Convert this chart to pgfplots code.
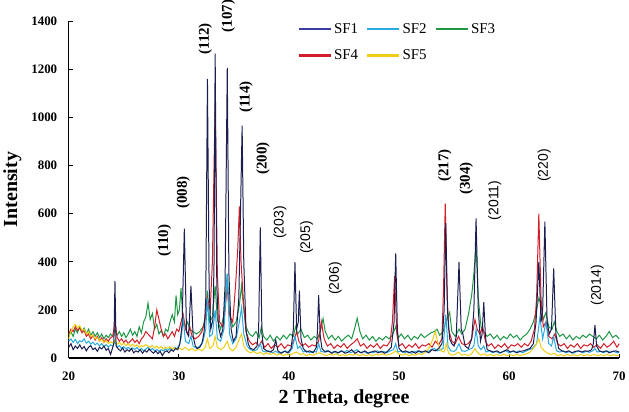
\documentclass[border=0pt]{standalone}
\usepackage{fontspec}
\setmainfont{Liberation Serif}
\newfontfamily\sansf{Liberation Sans}
\usepackage{pgfplots}
\pgfplotsset{compat=1.18}
\definecolor{sfone}{RGB}{28,30,80}
\definecolor{sfonel}{RGB}{60,60,165}
\definecolor{sftwo}{RGB}{40,170,225}
\definecolor{sfthree}{RGB}{30,150,70}
\definecolor{sffour}{RGB}{210,30,40}
\definecolor{sffive}{RGB}{240,205,20}
\begin{document}
\begin{tikzpicture}
\begin{axis}[
  scale only axis, width=552pt, height=338pt,
  xmin=20, xmax=70, ymin=0, ymax=1400,
  axis lines=left, axis line style={-, black, line width=1.3pt},
  xtick={20,30,...,70}, ytick={0,200,...,1400},
  tick align=inside, major tick length=4pt, tick style={black, line width=0.8pt},
  /pgf/number format/assume math mode=true,
  /pgf/number format/1000 sep={},
  tick label style={font=\fontsize{13}{13}\selectfont\bfseries},
  xticklabel style={yshift=-10pt},
  yticklabel style={xshift=-8pt},
  xlabel={2 Theta, degree}, ylabel={Intensity},
  label style={font=\fontsize{20}{20}\selectfont\bfseries},
  xlabel style={yshift=-3pt},
  ylabel style={yshift=3pt},
  clip=false,
  legend columns=3,
  legend style={draw=none, fill=none, at={(0.41,1.005)}, anchor=north west,
    font=\fontsize{15}{15}\selectfont, row sep=11pt,
    /tikz/every even column/.append style={column sep=6pt}},
  legend cell align=left,
  legend image code/.code={\draw[#1, line width=2.5pt] (0pt,0pt) -- (32pt,0pt);},
  every axis plot/.append style={line width=1pt},
]
\addlegendimage{sfonel}\addlegendentry{SF1}
\addlegendimage{sftwo}\addlegendentry{SF2}
\addlegendimage{sfthree}\addlegendentry{SF3}
\addlegendimage{sffour}\addlegendentry{SF4}
\addlegendimage{sffive}\addlegendentry{SF5}

% SF3
\addplot[sfthree, forget plot] coordinates {(20,95)(20.2,110)(20.4,90)(20.6,120)(20.8,105)(21,130)(21.2,110)(21.4,125)(21.6,100)(21.8,120)(22,95)(22.2,110)(22.4,90)(22.6,105)(22.8,85)(23,100)(23.2,80)(23.4,95)(23.6,85)(23.8,100)(24,90)(24.2,120)(24.4,95)(24.6,110)(24.8,90)(25,105)(25.2,85)(25.4,100)(25.6,120)(25.8,95)(26,110)(26.2,90)(26.4,130)(26.6,105)(26.8,150)(27,170)(27.2,228)(27.4,160)(27.6,185)(27.8,120)(28,140)(28.2,100)(28.4,115)(28.6,90)(28.8,120)(29,110)(29.2,150)(29.4,180)(29.6,150)(29.75,260)(29.9,180)(30.05,200)(30.2,290)(30.35,180)(30.6,130)(30.8,150)(31,120)(31.3,110)(31.6,100)(31.9,110)(32.2,130)(32.45,180)(32.6,280)(32.8,150)(33.05,170)(33.3,300)(33.5,160)(33.8,120)(34.1,180)(34.4,350)(34.6,180)(34.9,130)(35.2,150)(35.5,220)(35.7,300)(35.9,200)(36.1,130)(36.4,100)(36.7,90)(37,110)(37.3,85)(37.5,130)(37.7,90)(38,75)(38.3,95)(38.6,70)(38.9,90)(39.2,75)(39.5,95)(39.8,80)(40.1,100)(40.4,90)(40.6,130)(40.8,100)(41.1,120)(41.4,85)(41.7,95)(42,75)(42.3,90)(42.6,80)(42.9,120)(43.1,165)(43.3,110)(43.6,80)(43.9,95)(44.2,75)(44.5,90)(44.8,70)(45.1,85)(45.4,95)(45.7,80)(45.95,120)(46.2,165)(46.45,110)(46.7,80)(47,95)(47.3,75)(47.6,90)(47.9,70)(48.2,85)(48.5,75)(48.8,90)(49.1,80)(49.4,95)(49.7,130)(49.95,85)(50.2,100)(50.5,80)(50.8,95)(51.1,75)(51.4,90)(51.7,80)(52,100)(52.3,85)(52.6,95)(52.9,105)(53.2,110)(53.45,120)(53.7,95)(54,110)(54.25,150)(54.6,190)(54.8,110)(55.1,90)(55.45,120)(55.7,100)(56,120)(56.3,180)(56.6,260)(56.8,350)(57,468)(57.2,250)(57.45,130)(57.7,110)(58,90)(58.3,100)(58.6,80)(58.9,95)(59.2,75)(59.5,90)(59.8,80)(60.1,100)(60.4,85)(60.7,95)(61,75)(61.3,90)(61.6,100)(61.9,120)(62.2,150)(62.5,200)(62.7,250)(62.9,220)(63.1,160)(63.35,190)(63.6,130)(63.9,120)(64.1,150)(64.35,110)(64.6,90)(64.9,100)(65.2,80)(65.5,95)(65.8,75)(66.1,90)(66.4,80)(66.7,95)(67,85)(67.3,100)(67.6,90)(67.9,80)(68.2,95)(68.5,75)(68.8,90)(69.1,110)(69.4,85)(69.7,95)(70,80)};

% SF4
\addplot[sffour, forget plot] coordinates {(20,100)(20.2,120)(20.4,110)(20.6,130)(20.8,115)(21,125)(21.2,105)(21.4,115)(21.6,90)(21.8,100)(22,80)(22.2,95)(22.4,75)(22.6,90)(22.8,70)(23,85)(23.2,65)(23.4,80)(23.6,70)(23.8,85)(24,90)(24.2,150)(24.4,85)(24.6,70)(24.8,80)(25,65)(25.2,75)(25.4,60)(25.6,70)(25.8,80)(26,65)(26.2,75)(26.4,60)(26.6,80)(26.8,90)(27,110)(27.2,100)(27.4,90)(27.6,80)(27.8,130)(28,200)(28.2,160)(28.4,120)(28.6,90)(28.8,100)(29,80)(29.2,95)(29.4,110)(29.6,90)(29.8,120)(30,110)(30.2,150)(30.4,180)(30.6,120)(30.8,100)(31,130)(31.2,90)(31.5,80)(31.8,90)(32.1,110)(32.35,150)(32.6,250)(32.85,200)(33.05,400)(33.3,1060)(33.5,350)(33.7,150)(34,130)(34.2,200)(34.4,300)(34.6,180)(34.9,150)(35.15,300)(35.35,450)(35.5,630)(35.65,400)(35.85,250)(36.1,110)(36.4,70)(36.7,55)(37,65)(37.3,50)(37.5,70)(37.8,45)(38.1,60)(38.4,40)(38.7,55)(39,45)(39.3,60)(39.6,40)(39.9,55)(40.2,50)(40.5,80)(40.7,110)(40.9,70)(41.2,50)(41.5,60)(41.8,45)(42.1,55)(42.4,50)(42.7,70)(42.95,150)(43.2,80)(43.5,50)(43.8,60)(44.1,40)(44.4,55)(44.7,45)(45,60)(45.3,40)(45.6,55)(45.9,65)(46.2,80)(46.5,50)(46.8,60)(47.1,40)(47.4,55)(47.7,45)(48,60)(48.3,40)(48.6,55)(48.9,50)(49.2,70)(49.4,150)(49.6,340)(49.8,100)(50,50)(50.3,60)(50.6,40)(50.9,55)(51.2,45)(51.5,60)(51.8,40)(52.1,55)(52.4,50)(52.7,60)(53,45)(53.3,70)(53.6,55)(53.9,80)(54.05,300)(54.2,642)(54.35,300)(54.5,120)(54.8,70)(55.1,60)(55.4,90)(55.7,60)(56,55)(56.3,60)(56.6,80)(56.9,160)(57.1,120)(57.35,100)(57.6,130)(57.85,70)(58.1,50)(58.4,60)(58.7,40)(59,55)(59.3,45)(59.6,60)(59.9,40)(60.2,55)(60.5,50)(60.8,60)(61.1,45)(61.4,60)(61.7,50)(62,70)(62.3,120)(62.5,250)(62.7,600)(62.9,250)(63.1,130)(63.35,150)(63.6,90)(63.9,80)(64.15,100)(64.4,60)(64.7,50)(65,60)(65.3,40)(65.6,55)(65.9,45)(66.2,60)(66.5,40)(66.8,55)(67.1,50)(67.4,60)(67.7,45)(68,55)(68.3,40)(68.6,60)(68.9,45)(69.2,55)(69.5,70)(69.8,45)(70,60)};

% SF2
\addplot[sftwo, forget plot] coordinates {(20,70)(20.2,80)(20.4,65)(20.6,78)(20.8,60)(21,72)(21.2,68)(21.4,80)(21.6,62)(21.8,70)(22,58)(22.2,66)(22.4,55)(22.6,62)(22.8,50)(23,60)(23.2,48)(23.4,56)(23.6,45)(23.8,55)(24,50)(24.2,70)(24.4,45)(24.6,52)(24.8,40)(25,48)(25.2,38)(25.4,45)(25.6,35)(25.8,42)(26,36)(26.2,44)(26.4,32)(26.6,40)(26.8,30)(27,38)(27.2,45)(27.4,32)(27.6,40)(27.8,30)(28,36)(28.2,28)(28.4,35)(28.6,30)(28.8,38)(29,32)(29.2,40)(29.4,35)(29.6,45)(29.8,40)(30,50)(30.2,80)(30.4,160)(30.6,70)(30.9,60)(31.1,90)(31.3,50)(31.6,40)(31.9,50)(32.2,70)(32.45,120)(32.6,250)(32.8,90)(33.05,100)(33.3,200)(33.5,80)(33.8,70)(34.1,120)(34.4,350)(34.6,100)(34.9,60)(35.2,80)(35.5,150)(35.7,210)(35.9,100)(36.2,50)(36.5,35)(36.8,30)(37.1,35)(37.4,60)(37.6,30)(37.9,25)(38.2,30)(38.5,22)(38.8,28)(39.1,20)(39.4,25)(39.7,30)(40,22)(40.3,40)(40.55,90)(40.8,40)(41,50)(41.3,25)(41.6,30)(41.9,22)(42.2,28)(42.5,25)(42.7,60)(42.9,28)(43.2,25)(43.5,32)(43.8,22)(44.1,28)(44.4,20)(44.7,30)(45,24)(45.3,32)(45.6,22)(45.9,28)(46.2,35)(46.5,22)(46.8,28)(47.1,20)(47.4,26)(47.7,22)(48,30)(48.3,24)(48.6,28)(48.9,22)(49.2,30)(49.5,35)(49.7,60)(49.9,25)(50.2,30)(50.5,22)(50.8,28)(51.1,20)(51.4,26)(51.7,30)(52,22)(52.3,28)(52.6,25)(52.9,35)(53.2,40)(53.5,30)(53.8,35)(54,40)(54.25,180)(54.45,50)(54.7,30)(55,28)(55.2,35)(55.45,60)(55.7,30)(56,28)(56.3,35)(56.6,40)(56.8,50)(57,120)(57.2,50)(57.45,35)(57.7,50)(57.9,25)(58.2,30)(58.5,22)(58.8,28)(59.1,20)(59.4,26)(59.7,30)(60,22)(60.3,28)(60.6,24)(60.9,30)(61.2,22)(61.5,28)(61.8,35)(62.1,40)(62.5,60)(62.8,170)(63.05,80)(63.35,150)(63.6,60)(63.85,50)(64.05,90)(64.3,30)(64.6,25)(64.9,30)(65.2,22)(65.5,28)(65.8,20)(66.1,26)(66.4,30)(66.7,22)(67,28)(67.3,24)(67.6,30)(67.8,40)(68,25)(68.3,28)(68.6,22)(68.9,30)(69.2,24)(69.5,28)(69.8,22)(70,25)};

% SF5
\addplot[sffive, forget plot] coordinates {(20,80)(20.2,110)(20.4,130)(20.6,140)(20.8,125)(21,135)(21.2,115)(21.4,120)(21.6,100)(21.8,110)(22,90)(22.2,95)(22.4,80)(22.6,85)(22.8,70)(23,78)(23.2,65)(23.4,72)(23.6,60)(23.8,68)(24,62)(24.2,75)(24.4,58)(24.6,65)(24.8,55)(25,62)(25.2,52)(25.4,60)(25.6,50)(25.8,58)(26,48)(26.2,55)(26.4,45)(26.6,52)(26.8,48)(27,56)(27.2,50)(27.4,45)(27.6,52)(27.8,42)(28,50)(28.2,40)(28.4,48)(28.6,38)(28.8,45)(29,40)(29.2,48)(29.4,38)(29.6,44)(29.8,35)(30,42)(30.3,35)(30.6,45)(30.9,32)(31.2,40)(31.5,30)(31.8,38)(32.1,30)(32.4,45)(32.6,80)(32.8,40)(33.1,50)(33.3,90)(33.5,45)(33.8,35)(34.1,45)(34.4,70)(34.6,40)(34.9,30)(35.2,45)(35.5,80)(35.7,100)(35.9,50)(36.2,30)(36.5,22)(36.8,28)(37.1,18)(37.4,25)(37.7,15)(38,22)(38.3,15)(38.6,20)(38.9,12)(39.2,18)(39.5,10)(39.8,16)(40.1,12)(40.4,20)(40.7,25)(41,15)(41.3,18)(41.6,10)(41.9,15)(42.2,12)(42.5,18)(42.8,22)(43.1,15)(43.4,10)(43.7,16)(44,12)(44.3,18)(44.6,10)(44.9,14)(45.2,10)(45.5,16)(45.8,12)(46.1,18)(46.4,10)(46.7,15)(47,10)(47.3,14)(47.6,10)(47.9,16)(48.2,12)(48.5,18)(48.8,12)(49.1,15)(49.4,20)(49.7,30)(50,15)(50.3,12)(50.6,18)(50.9,10)(51.2,15)(51.5,12)(51.8,18)(52.1,15)(52.4,25)(52.7,40)(53,70)(53.3,110)(53.55,60)(53.8,30)(54.1,25)(54.3,60)(54.5,20)(54.8,12)(55.1,15)(55.4,25)(55.7,12)(56,15)(56.3,10)(56.6,18)(56.9,40)(57.1,25)(57.4,12)(57.7,18)(58,10)(58.3,15)(58.6,10)(58.9,14)(59.2,10)(59.5,16)(59.8,10)(60.1,14)(60.4,10)(60.7,15)(61,10)(61.3,14)(61.6,18)(61.9,25)(62.2,40)(62.5,60)(62.7,80)(62.9,45)(63.2,30)(63.5,20)(63.8,15)(64.1,20)(64.4,10)(64.7,14)(65,10)(65.3,15)(65.6,10)(65.9,14)(66.2,10)(66.5,15)(66.8,10)(67.1,14)(67.4,10)(67.7,15)(68,10)(68.3,14)(68.6,10)(68.9,15)(69.2,10)(69.5,14)(69.8,10)(70,12)};

% SF1
\addplot[sfone, forget plot] coordinates {(20,45)(20.2,60)(20.4,35)(20.6,50)(20.8,40)(21,55)(21.2,38)(21.4,48)(21.6,30)(21.8,45)(22,52)(22.2,35)(22.4,42)(22.6,28)(22.8,45)(23,38)(23.2,50)(23.4,32)(23.6,40)(23.8,15)(24,45)(24.1,60)(24.2,320)(24.3,50)(24.5,38)(24.7,30)(24.9,42)(25.1,25)(25.3,35)(25.5,28)(25.7,40)(25.9,22)(26.1,30)(26.3,25)(26.5,35)(26.7,20)(26.9,32)(27.1,25)(27.3,38)(27.5,28)(27.7,20)(27.9,30)(28.1,18)(28.3,28)(28.5,10)(28.7,25)(28.9,30)(29.1,22)(29.3,35)(29.5,28)(29.7,40)(29.9,35)(30.1,60)(30.3,140)(30.5,538)(30.7,110)(30.9,90)(31.1,300)(31.3,90)(31.5,50)(31.7,40)(31.9,45)(32.1,60)(32.3,110)(32.45,250)(32.6,1160)(32.75,300)(32.9,120)(33.1,160)(33.2,400)(33.3,1265)(33.45,300)(33.6,130)(33.8,90)(34,120)(34.2,300)(34.4,1205)(34.55,350)(34.75,120)(34.95,70)(35.2,90)(35.45,250)(35.6,600)(35.75,965)(35.9,400)(36.1,120)(36.3,60)(36.5,40)(36.8,35)(37.1,50)(37.25,120)(37.4,543)(37.55,100)(37.7,40)(38,30)(38.3,25)(38.6,35)(38.8,75)(39,30)(39.3,20)(39.6,28)(39.9,22)(40.2,40)(40.4,120)(40.55,398)(40.7,120)(40.85,150)(40.95,280)(41.1,80)(41.3,40)(41.6,25)(41.9,30)(42.2,22)(42.5,45)(42.6,120)(42.7,261)(42.85,90)(43,40)(43.3,25)(43.6,30)(43.9,20)(44.2,28)(44.5,22)(44.8,30)(45.1,20)(45.4,25)(45.7,35)(46,20)(46.3,28)(46.6,22)(46.9,30)(47.2,20)(47.5,25)(47.8,30)(48.1,22)(48.4,28)(48.7,20)(49,30)(49.3,45)(49.55,150)(49.7,435)(49.85,120)(50,40)(50.3,25)(50.6,30)(50.9,22)(51.2,28)(51.5,20)(51.8,30)(52.1,25)(52.4,30)(52.7,22)(53,35)(53.3,30)(53.6,40)(53.9,60)(54.1,200)(54.25,560)(54.4,200)(54.6,80)(54.8,60)(55,50)(55.2,90)(55.45,398)(55.65,120)(55.8,100)(56,50)(56.3,40)(56.6,80)(56.8,200)(57,580)(57.2,200)(57.4,70)(57.55,100)(57.7,232)(57.85,90)(58,35)(58.3,30)(58.6,25)(58.9,30)(59.2,22)(59.5,28)(59.8,35)(60.1,25)(60.4,30)(60.7,22)(61,28)(61.3,30)(61.6,35)(61.9,40)(62.2,60)(62.45,150)(62.7,400)(62.9,150)(63.05,200)(63.25,567)(63.45,150)(63.65,100)(63.85,120)(64.05,372)(64.25,100)(64.5,40)(64.8,30)(65.1,25)(65.4,30)(65.7,22)(66,28)(66.3,30)(66.6,25)(66.9,30)(67.2,28)(67.5,35)(67.65,60)(67.8,137)(67.95,50)(68.2,30)(68.5,25)(68.8,30)(69.1,22)(69.4,28)(69.7,30)(70,25)};

% peak labels
\begin{scope}[every node/.style={rotate=90, font=\fontsize{15}{15}\selectfont\bfseries, inner sep=0pt}]
\node at (axis cs:28.7,489) {(110)};
\node at (axis cs:30.4,688) {(008)};
\node at (axis cs:32.4,1326) {(112)};
\node at (axis cs:34.5,1420) {(107)};
\node at (axis cs:36.1,1085) {(114)};
\node at (axis cs:37.65,828) {(200)};
\node at (axis cs:54.15,800) {(217)};
\node at (axis cs:56.1,746) {(304)};
\end{scope}
\begin{scope}[every node/.style={rotate=90, font=\fontsize{14}{14}\selectfont\sansf, inner sep=0pt}]
\node at (axis cs:39.2,563) {(203)};
\node at (axis cs:41.6,501) {(205)};
\node at (axis cs:44.2,331) {(206)};
\node at (axis cs:58.7,655) {(2011)};
\node at (axis cs:63.2,800) {(220)};
\node at (axis cs:68.0,302) {(2014)};
\end{scope}
\end{axis}
\end{tikzpicture}
\end{document}
